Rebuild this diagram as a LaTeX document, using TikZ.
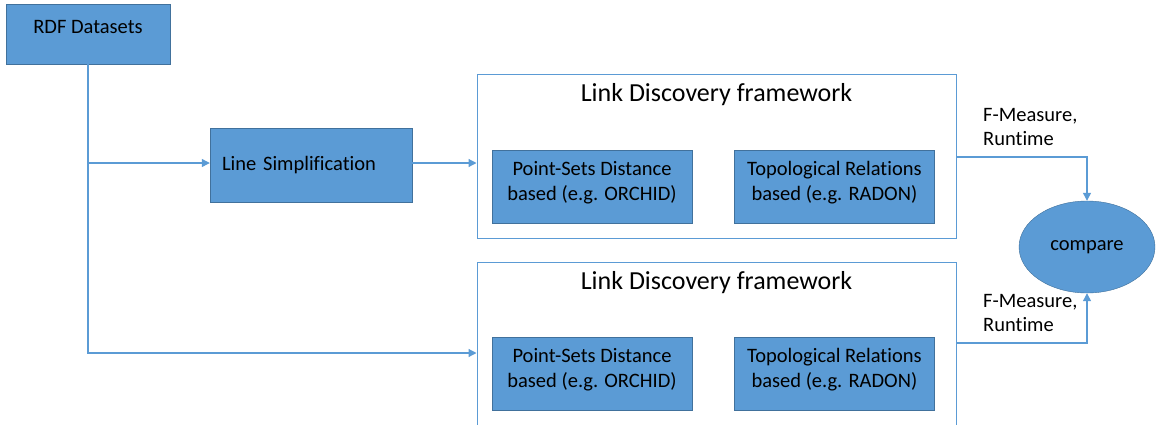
\documentclass[tikz,border=0pt]{standalone}
\usepackage{fontspec}
\setmainfont{Carlito}[Ligatures=NoCommon]
\usetikzlibrary{arrows.meta,positioning,shapes.geometric}
\definecolor{ldBlue}{RGB}{91,155,213}
\definecolor{ldBorder}{RGB}{65,113,156}
\definecolor{ldLine}{RGB}{91,155,213}

\begin{document}
\begin{tikzpicture}[
  x=1pt,y=-1pt,
  block/.style={
    draw=ldBorder,
    fill=ldBlue,
    minimum width=200pt,
    minimum height=73pt,
    inner sep=0pt,
    align=center,
    font=\fontsize{20.5}{25}\selectfont
  },
  lifted/.style={text depth=#1},
  frame/.style={draw=ldLine,line width=1pt,minimum width=479pt,inner sep=0pt},
  heading/.style={font=\fontsize{26}{30}\selectfont,inner sep=0pt},
  metric/.style={align=left,anchor=west,font=\fontsize{20.5}{24}\selectfont,inner sep=0pt},
  arrow/.style={-{Triangle[length=8pt,width=8pt]},ldLine,line width=1.2pt}
]
  \clip (0,0) rectangle (1156,424);
  \useasboundingbox (0,0) rectangle (1156,424);
  \node[block,lifted=15pt,minimum width=164pt,minimum height=60pt] (rdf) at (88,34) {RDF Datasets};
  \node[block,minimum width=202pt,minimum height=74pt,text width=178pt,align=left] (simplify) at (311,165) {Line Simplification};
  % upper framework
  \node[frame,minimum height=164pt] (ldfA) at (716.5,156) {};
  \node[heading,below=10pt of ldfA.north] (titleA) {Link Discovery framework};
  \node[block,lifted=11pt] (pointsA) at (592,186.5) {Point-Sets Distance\\based (e.g. ORCHID)};
  \node[block,lifted=11pt,right=42pt of pointsA] (topoA) {Topological Relations\\based (e.g. RADON)};
  % lower framework
  \node[frame,minimum height=182pt] (ldfB) at (716.5,353) {};
  \node[heading,below=10pt of ldfB.north] (titleB) {Link Discovery framework};
  \node[block,lifted=11pt] (pointsB) at (592,373.5) {Point-Sets Distance\\based (e.g. ORCHID)};
  \node[block,lifted=11pt,right=42pt of pointsB] (topoB) {Topological Relations\\based (e.g. RADON)};
  \node[ellipse,draw=ldBorder,fill=ldBlue,minimum width=136pt,minimum height=92pt,font=\fontsize{20.5}{24}\selectfont] (compare) at (1087,247) {compare};
  \node[metric] (metricA) at (983,127) {F-Measure,\\Runtime};
  \node[metric] (metricB) at (983,313) {F-Measure,\\Runtime};
  \draw[arrow] (rdf.south) |- ([yshift=2pt]simplify.west);
  \draw[arrow] (rdf.south) |- (ldfB.west);
  \draw[arrow] ([yshift=2pt]simplify.east) -- ([yshift=2pt]simplify.east -| ldfA.west);
  \draw[arrow] ([yshift=-1pt]ldfA.east) -| (compare.north);
  \draw[arrow] ([yshift=10pt]ldfB.east) -| (compare.south);
\end{tikzpicture}
\end{document}
